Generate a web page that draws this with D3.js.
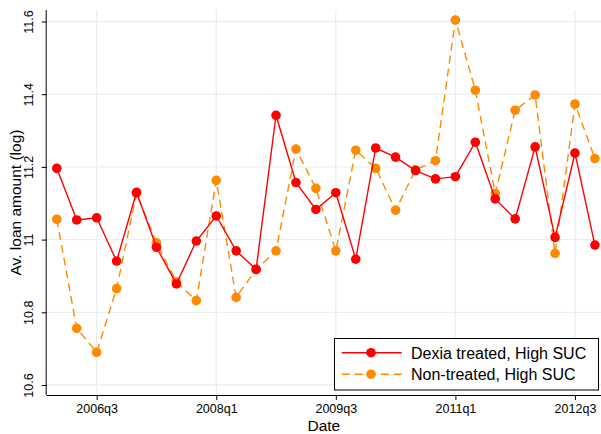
<!DOCTYPE html>
<html>
<head>
  <script src="https://d3js.org/d3.v7.min.js"></script>
  <style>
    body { margin: 0; background: white; font-family: "Liberation Sans", Arial, sans-serif; }
    svg text { fill: #000; }
  </style>
</head>
<body>
  <svg id="chart" width="601" height="434"></svg>
  <script>
    // quarters 2006q1 .. 2012q4
    const quarters = [];
    for (let yr = 2006; yr <= 2012; yr++) for (let q = 1; q <= 4; q++) quarters.push(yr + 'q' + q);

    const dexia = [11.196, 11.054, 11.060, 10.941, 11.130, 10.979, 10.878, 10.996, 11.065, 10.969,
                   10.918, 11.342, 11.157, 11.083, 11.129, 10.946, 11.252, 11.227, 11.190, 11.167,
                   11.173, 11.268, 11.112, 11.057, 11.255, 11.006, 11.238, 10.985];
    const nonTreated = [11.056, 10.756, 10.690, 10.865, 11.127, 10.991, 10.884, 10.832, 11.163, 10.841,
                        10.918, 10.969, 11.249, 11.141, 10.969, 11.246, 11.196, 11.081, 11.192, 11.217,
                        11.604, 11.411, 11.127, 11.356, 11.398, 10.962, 11.373, 11.223];

    const xTicks = ['2006q3', '2008q1', '2009q3', '2011q1', '2012q3'];
    const yTicks = [10.6, 10.8, 11, 11.2, 11.4, 11.6];

    const series = [
      { name: 'Dexia treated, High SUC', values: dexia, color: '#ff0000', dash: null },
      { name: 'Non-treated, High SUC', values: nonTreated, color: '#ff8a00', dash: '8,5' }
    ];

    const svg = d3.select('#chart');
    const pLeft = 46.7, pRight = 601, pTop = 10, pBottom = 395;

    const x = d3.scalePoint().domain(quarters).range([56.8, 56.8 + 27 * 19.93]);
    const y = d3.scaleLinear().domain([10.6, 11.6]).range([385, 21.5]);

    // grid
    const grid = svg.append('g');
    grid.selectAll('.hg').data(yTicks).join('line')
      .attr('x1', pLeft).attr('x2', pRight)
      .attr('y1', d => y(d)).attr('y2', d => y(d))
      .attr('stroke', '#e8f0f2').attr('stroke-width', 1.3);
    grid.selectAll('.vg').data(xTicks).join('line')
      .attr('x1', d => x(d)).attr('x2', d => x(d))
      .attr('y1', pTop).attr('y2', pBottom)
      .attr('stroke', '#e8f0f2').attr('stroke-width', 1.3);

    // axes
    const xAxis = svg.append('g')
      .attr('transform', `translate(0,${pBottom})`)
      .call(d3.axisBottom(x).tickValues(xTicks).tickSize(5).tickPadding(4));
    xAxis.select('.domain').attr('d', `M${pLeft},0.5H${pRight}`);
    xAxis.selectAll('text').style('font-size', '12.5px').style('font-family', '"Liberation Sans", Arial, sans-serif');

    const yAxis = svg.append('g')
      .attr('transform', `translate(${pLeft},0)`)
      .call(d3.axisLeft(y).tickValues(yTicks).tickSize(5).tickFormat(d3.format('')));
    yAxis.select('.domain').attr('d', `M-0.5,${pTop}V${pBottom}`);
    yAxis.selectAll('text')
      .attr('x', null).attr('dy', null)
      .attr('transform', 'translate(-14,0) rotate(-90)')
      .attr('text-anchor', 'middle')
      .style('font-size', '12.5px').style('font-family', '"Liberation Sans", Arial, sans-serif');

    // axis titles
    svg.append('text')
      .attr('transform', `translate(21,${(pTop + pBottom) / 2}) rotate(-90)`)
      .attr('text-anchor', 'middle')
      .style('font-size', '15.5px')
      .text('Av. loan amount (log)');
    svg.append('text')
      .attr('x', (pLeft + pRight) / 2).attr('y', 431)
      .attr('text-anchor', 'middle')
      .style('font-size', '15.5px')
      .text('Date');

    // lines and markers (orange first, red on top)
    const line = d3.line().x((d, i) => x(quarters[i])).y(d => y(d));
    [series[1], series[0]].forEach(s => {
      svg.append('path')
        .attr('d', line(s.values))
        .attr('fill', 'none')
        .attr('stroke', s.color)
        .attr('stroke-width', 1.4)
        .attr('stroke-dasharray', s.dash);
      svg.append('g').selectAll('circle').data(s.values).join('circle')
        .attr('cx', (d, i) => x(quarters[i]))
        .attr('cy', d => y(d))
        .attr('r', 4.8)
        .attr('fill', s.color);
    });

    // legend
    const lg = svg.append('g');
    lg.append('rect')
      .attr('x', 334.5).attr('y', 338.5).attr('width', 264).attr('height', 51.5)
      .attr('fill', 'white').attr('stroke', '#000').attr('stroke-width', 1);
    series.forEach((s, i) => {
      const ly = 352.7 + i * 21.5;
      lg.append('line')
        .attr('x1', 341.7).attr('x2', 401.7).attr('y1', ly).attr('y2', ly)
        .attr('stroke', s.color).attr('stroke-width', 1.4)
        .attr('stroke-dasharray', s.dash);
      lg.append('circle').attr('cx', 371).attr('cy', ly).attr('r', 4.8).attr('fill', s.color);
      lg.append('text')
        .attr('x', 411).attr('y', ly + 5.8)
        .style('font-size', '16px')
        .text(s.name);
    });
  </script>
</body>
</html>
